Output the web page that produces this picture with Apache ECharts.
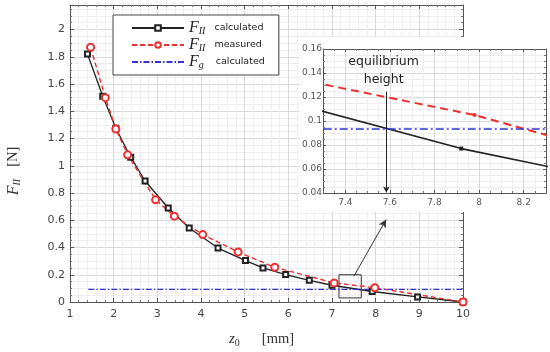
<!DOCTYPE html>
<html>
<head>
<meta charset="utf-8">
<script src="https://cdn.jsdelivr.net/npm/echarts@6/dist/echarts.min.js"></script>
<style>
html,body{margin:0;padding:0;background:#fff;}
#c{width:550px;height:352px;}
</style>
</head>
<body>
<div id="c"></div>
<script>
// ---- data ----
const calcX = [1.40, 1.75, 2.05, 2.39, 2.72, 3.25, 3.73, 4.39, 5.02, 5.42, 5.94, 6.48, 7.00, 7.92, 8.96, 10];
const calcY = [1.82, 1.51, 1.275, 1.063, 0.888, 0.69, 0.543, 0.396, 0.304, 0.25, 0.201, 0.159, 0.123, 0.077, 0.037, 0.0];
const measX = [1.47, 1.81, 2.05, 2.32, 2.96, 3.39, 4.04, 4.85, 5.69, 7.05, 7.98, 10];
const measY = [1.87, 1.50, 1.27, 1.08, 0.75, 0.63, 0.495, 0.367, 0.255, 0.140, 0.105, 0.0];
const gX = [1.42, 10];
const gY = [0.0933, 0.0933];
const equilibriumZ = 7.584;

const pairs = (xs, ys) => xs.map((x, i) => [x, ys[i]]);
const calc = pairs(calcX, calcY);
const meas = pairs(measX, measY);
const grav = pairs(gX, gY);

const BLACK = '#222', RED = '#ee2f2f', BLUE = '#3434d6';
const tickFont = 'DejaVu Sans';

function mainAxisCommon() {
  return {
    axisLine: {show: true, onZero: false, lineStyle: {color: '#555', width: 1}},
    axisTick: {show: true, inside: true, length: 4, lineStyle: {color: '#555'}},
    minorTick: {show: true, length: 2, lineStyle: {color: '#777'}},
  };
}

const chart = echarts.init(document.getElementById('c'), null, {renderer: 'canvas'});

const rich = {
  f: {fontFamily: 'Liberation Serif', fontStyle: 'italic', fontSize: 16, color: '#222', lineHeight: 16},
  s: {fontFamily: 'Liberation Serif', fontStyle: 'italic', fontSize: 10, color: '#222', lineHeight: 16, verticalAlign: 'bottom', padding: [6, 0, 0, 0]},
  t: {fontFamily: 'DejaVu Sans', fontSize: 9.5, color: '#222', lineHeight: 16, padding: [0, 0, 0, 9]}
};
const legendText = {
  calc: '{f|F}{s|II}{t|calculated}',
  meas: '{f|F}{s|II}{t|measured}',
  grav: '{f|F}{s|g}{t| calculated}'
};

const option = {
  animation: false,
  backgroundColor: '#fff',
  grid: [
    {left: 70, top: 5, width: 393, height: 297, show: false, containLabel: false, outerBoundsMode: 'none'},
    {left: 323, top: 49, width: 223, height: 144, show: false, containLabel: false, outerBoundsMode: 'none'}
  ],
  legend: {
    data: ['calc', 'meas', {name: 'grav', itemStyle: {color: 'rgba(0,0,0,0)', borderWidth: 0, opacity: 0}}],
    orient: 'vertical',
    left: 113, top: 15,
    padding: [5, 14, 5, 18],
    itemGap: 1,
    itemWidth: 52, itemHeight: 7,
    backgroundColor: '#fff',
    borderColor: '#444', borderWidth: 1,
    selectedMode: false,
    formatter: n => legendText[n],
    textStyle: {rich: rich}
  },
  xAxis: [
    Object.assign(mainAxisCommon(), {
      type: 'value', gridIndex: 0, position: 'bottom', min: 1, max: 10, interval: 1,
      minorTick: {show: true, splitNumber: 5, length: 2, lineStyle: {color: '#777'}},
      splitLine: {show: true, lineStyle: {color: '#d9d9d9', width: 1}},
      minorSplitLine: {show: true, lineStyle: {color: '#efefef', width: 1}},
      axisLabel: {color: '#444', fontFamily: tickFont, fontSize: 11, margin: 7},
      name: '{z|z}{s|0}{u|[mm]}',
      nameLocation: 'middle', nameGap: 29,
      nameTextStyle: {
        padding: [0, 10, 0, 0],
        rich: {
          z: {fontFamily: 'Liberation Serif', fontStyle: 'italic', fontSize: 15, color: '#333'},
          s: {fontFamily: 'Liberation Serif', fontSize: 10, color: '#333', verticalAlign: 'bottom', padding: [7, 0, 0, 0]},
          u: {fontFamily: 'Liberation Serif', fontSize: 14.5, color: '#333', padding: [0, 0, 0, 22]}
        }
      }
    }),
    Object.assign(mainAxisCommon(), {
      type: 'value', gridIndex: 0, position: 'top', min: 1, max: 10, interval: 1,
      minorTick: {show: true, splitNumber: 5, length: 2, lineStyle: {color: '#777'}},
      splitLine: {show: false}, axisLabel: {show: false}
    }),
    {
      type: 'value', gridIndex: 1, position: 'bottom', min: 7.3, max: 8.3, splitNumber: 5, z: 5,
      axisLine: {show: true, onZero: false, lineStyle: {color: '#555'}},
      axisTick: {show: true, inside: true, length: 3, lineStyle: {color: '#555'}},
      minorTick: {show: true, splitNumber: 4, length: 2, lineStyle: {color: '#777'}},
      splitLine: {show: true, lineStyle: {color: '#d9d9d9'}},
      minorSplitLine: {show: true, lineStyle: {color: '#efefef'}},
      axisLabel: {
        color: '#555', fontFamily: tickFont, fontSize: 9, margin: 5,
        formatter: v => Math.abs(v * 5 - Math.round(v * 5)) < 1e-6 ? String(+v.toFixed(1)) : ''
      }
    },
    {
      type: 'value', gridIndex: 1, position: 'top', min: 7.3, max: 8.3, splitNumber: 5, z: 5,
      axisLine: {show: true, onZero: false, lineStyle: {color: '#555'}},
      axisTick: {show: true, inside: true, length: 3, lineStyle: {color: '#555'}},
      minorTick: {show: true, splitNumber: 4, length: 2, lineStyle: {color: '#777'}},
      splitLine: {show: false}, axisLabel: {show: false}
    }
  ],
  yAxis: [
    Object.assign(mainAxisCommon(), {
      type: 'value', gridIndex: 0, position: 'left', min: 0, max: 2.18, interval: 0.2,
      minorTick: {show: true, splitNumber: 4, length: 2, lineStyle: {color: '#777'}},
      splitLine: {show: true, lineStyle: {color: '#d9d9d9'}},
      minorSplitLine: {show: true, lineStyle: {color: '#efefef'}},
      axisLabel: {
        color: '#444', fontFamily: tickFont, fontSize: 11, margin: 5,
        formatter: v => Math.abs(v * 5 - Math.round(v * 5)) < 1e-6 ? String(+v.toFixed(1)) : ''
      },
      name: '{f|F}{s|II}{u|[N]}',
      nameLocation: 'middle', nameGap: 48, nameRotate: 90,
      nameTextStyle: {
        padding: [0, 35, 0, 0],
        rich: {
          f: {fontFamily: 'Liberation Serif', fontStyle: 'italic', fontSize: 16, color: '#333'},
          s: {fontFamily: 'Liberation Serif', fontStyle: 'italic', fontSize: 10, color: '#333', verticalAlign: 'bottom', padding: [7, 0, 0, 0]},
          u: {fontFamily: 'Liberation Serif', fontSize: 14.5, color: '#333', padding: [0, 0, 0, 12]}
        }
      }
    }),
    Object.assign(mainAxisCommon(), {
      type: 'value', gridIndex: 0, position: 'right', min: 0, max: 2.18, interval: 0.2,
      minorTick: {show: true, splitNumber: 4, length: 2, lineStyle: {color: '#777'}},
      splitLine: {show: false}, axisLabel: {show: false}
    }),
    {
      type: 'value', gridIndex: 1, position: 'left', min: 0.04, max: 0.16, interval: 0.02, z: 5,
      axisLine: {show: true, onZero: false, lineStyle: {color: '#555'}},
      axisTick: {show: true, inside: true, length: 3, lineStyle: {color: '#555'}},
      minorTick: {show: true, splitNumber: 4, length: 2, lineStyle: {color: '#777'}},
      splitLine: {show: true, lineStyle: {color: '#d9d9d9'}},
      minorSplitLine: {show: true, lineStyle: {color: '#efefef'}},
      axisLabel: {
        color: '#555', fontFamily: tickFont, fontSize: 9, margin: 1,
        formatter: v => String(+v.toFixed(2))
      }
    },
    {
      type: 'value', gridIndex: 1, position: 'right', min: 0.04, max: 0.16, interval: 0.02, z: 5,
      axisLine: {show: true, onZero: false, lineStyle: {color: '#555'}},
      axisTick: {show: true, inside: true, length: 3, lineStyle: {color: '#555'}},
      minorTick: {show: true, splitNumber: 4, length: 2, lineStyle: {color: '#777'}},
      splitLine: {show: false}, axisLabel: {show: false}
    }
  ],
  graphic: {
    elements: [{
      type: 'rect', z: 3, silent: true,
      shape: {x: 300, y: 37, width: 250, height: 175},
      style: {fill: '#fff'}
    }]
  },
  series: [
    {
      name: 'calc', type: 'line', xAxisIndex: 0, yAxisIndex: 0, z: 2,
      data: calc, symbol: 'emptyRect', symbolSize: 5,
      lineStyle: {color: BLACK, width: 1.3},
      itemStyle: {color: BLACK, borderWidth: 1.2},
      markArea: {
        silent: true,
        itemStyle: {color: 'transparent', borderColor: '#333', borderWidth: 1},
        data: [[{coord: [7.16, 0.2]}, {coord: [7.67, 0.03]}]]
      },
      markLine: {
        silent: true, symbol: ['none', 'arrow'], symbolSize: [6, 8],
        label: {show: false},
        lineStyle: {color: '#333', width: 1, type: 'solid'},
        data: [[{coord: [7.50, 0.189]}, {coord: [8.24, 0.605]}]]
      }
    },
    {
      name: 'meas', type: 'line', xAxisIndex: 0, yAxisIndex: 0, z: 2,
      data: meas, symbol: 'emptyCircle', symbolSize: 7,
      lineStyle: {color: RED, width: 1.4, type: [5, 3]},
      itemStyle: {color: RED, borderWidth: 1.3}
    },
    {
      name: 'grav', type: 'line', xAxisIndex: 0, yAxisIndex: 0, z: 2,
      data: grav, symbol: 'none',
      lineStyle: {color: BLUE, width: 1.3, type: [6, 2, 1.5, 2]},
      itemStyle: {color: BLUE}
    },
    {
      name: 'calcInset', type: 'line', xAxisIndex: 2, yAxisIndex: 2, z: 6,
      data: calc, symbol: 'rect', symbolSize: 4, clip: true,
      lineStyle: {color: BLACK, width: 1.6},
      itemStyle: {color: BLACK},
      markPoint: {
        silent: true, symbol: 'circle', symbolSize: 0,
        label: {
          show: true, position: 'inside', formatter: 'equilibrium\nheight',
          fontFamily: 'DejaVu Sans', fontSize: 12.5, lineHeight: 18, color: '#222'
        },
        data: [{coord: [7.572, 0.142]}]
      },
      markLine: {
        silent: true, symbol: ['none', 'arrow'], symbolSize: [5, 6],
        label: {show: false},
        lineStyle: {color: '#222', width: 1, type: 'solid'},
        data: [[{coord: [equilibriumZ, 0.1245]}, {coord: [equilibriumZ, 0.0405]}]]
      }
    },
    {
      name: 'measInset', type: 'line', xAxisIndex: 2, yAxisIndex: 2, z: 6,
      data: meas, symbol: 'circle', symbolSize: 4, clip: true,
      lineStyle: {color: RED, width: 2, type: [8, 5]},
      itemStyle: {color: RED}
    },
    {
      name: 'gravInset', type: 'line', xAxisIndex: 2, yAxisIndex: 2, z: 6,
      data: grav, symbol: 'none', clip: true,
      lineStyle: {color: BLUE, width: 1.6, type: [8, 3, 2, 3]},
      itemStyle: {color: BLUE}
    }
  ]
};
chart.setOption(option);
</script>
</body>
</html>
